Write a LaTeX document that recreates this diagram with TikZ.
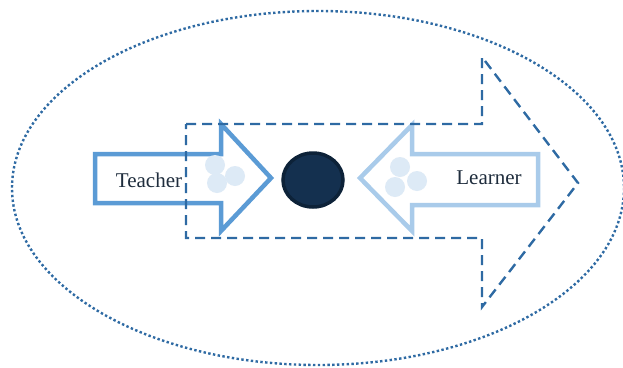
\documentclass[tikz,border=0pt]{standalone}
\usepackage{fontspec}
\setmainfont{Liberation Serif}
\definecolor{teachblue}{HTML}{5B9BD5}
\definecolor{learnblue}{HTML}{A9CBEA}
\definecolor{framblue}{HTML}{2E6AA3}
\definecolor{bubble}{HTML}{DDEAF6}
\definecolor{corefill}{HTML}{14304F}
\definecolor{coreline}{HTML}{0D2238}
\definecolor{labtext}{HTML}{1F2D3D}

\begin{document}
\begin{tikzpicture}[x=1pt,y=-1pt]
\useasboundingbox (0,0) rectangle (623,367);
\draw[color=framblue, line width=2.4pt, dash pattern=on 2.4pt off 2.4pt] (318,188) ellipse (306 and 177);

% teacher arrow
\draw[color=teachblue, line width=4.5pt, fill=white] (95,154) -- (221,154) -- (221,124) -- (271,178) -- (221,231) -- (221,203) -- (95,203) -- cycle;
\fill[color=bubble] (215,165) circle (10);
\fill[color=bubble] (235,176) circle (10);
\fill[color=bubble] (217,183) circle (10);
\node[font=\fontsize{21}{24}\selectfont, color=labtext] (teacher) at (149,180) {Teacher};

% learner arrow
\draw[color=learnblue, line width=4.5pt, fill=white] (538,154) -- (412,154) -- (412,125) -- (360,178) -- (412,231) -- (412,205) -- (538,205) -- cycle;
\fill[color=bubble] (400,167) circle (10);
\fill[color=bubble] (417,181) circle (10);
\fill[color=bubble] (395,187) circle (10);
\node[font=\fontsize{21}{24}\selectfont, color=labtext] (learner) at (489,178) {Learner};

% core
\draw[color=coreline, fill=corefill, line width=3.5pt] (313,180) ellipse (30 and 27);

% frame arrow
\draw[color=framblue, line width=2.4pt, dash pattern=on 10pt off 6pt] (186,124) -- (482,124) -- (482,57) -- (578,183) -- (482,307) -- (482,238) -- (186,238) -- cycle;
\end{tikzpicture}
\end{document}
